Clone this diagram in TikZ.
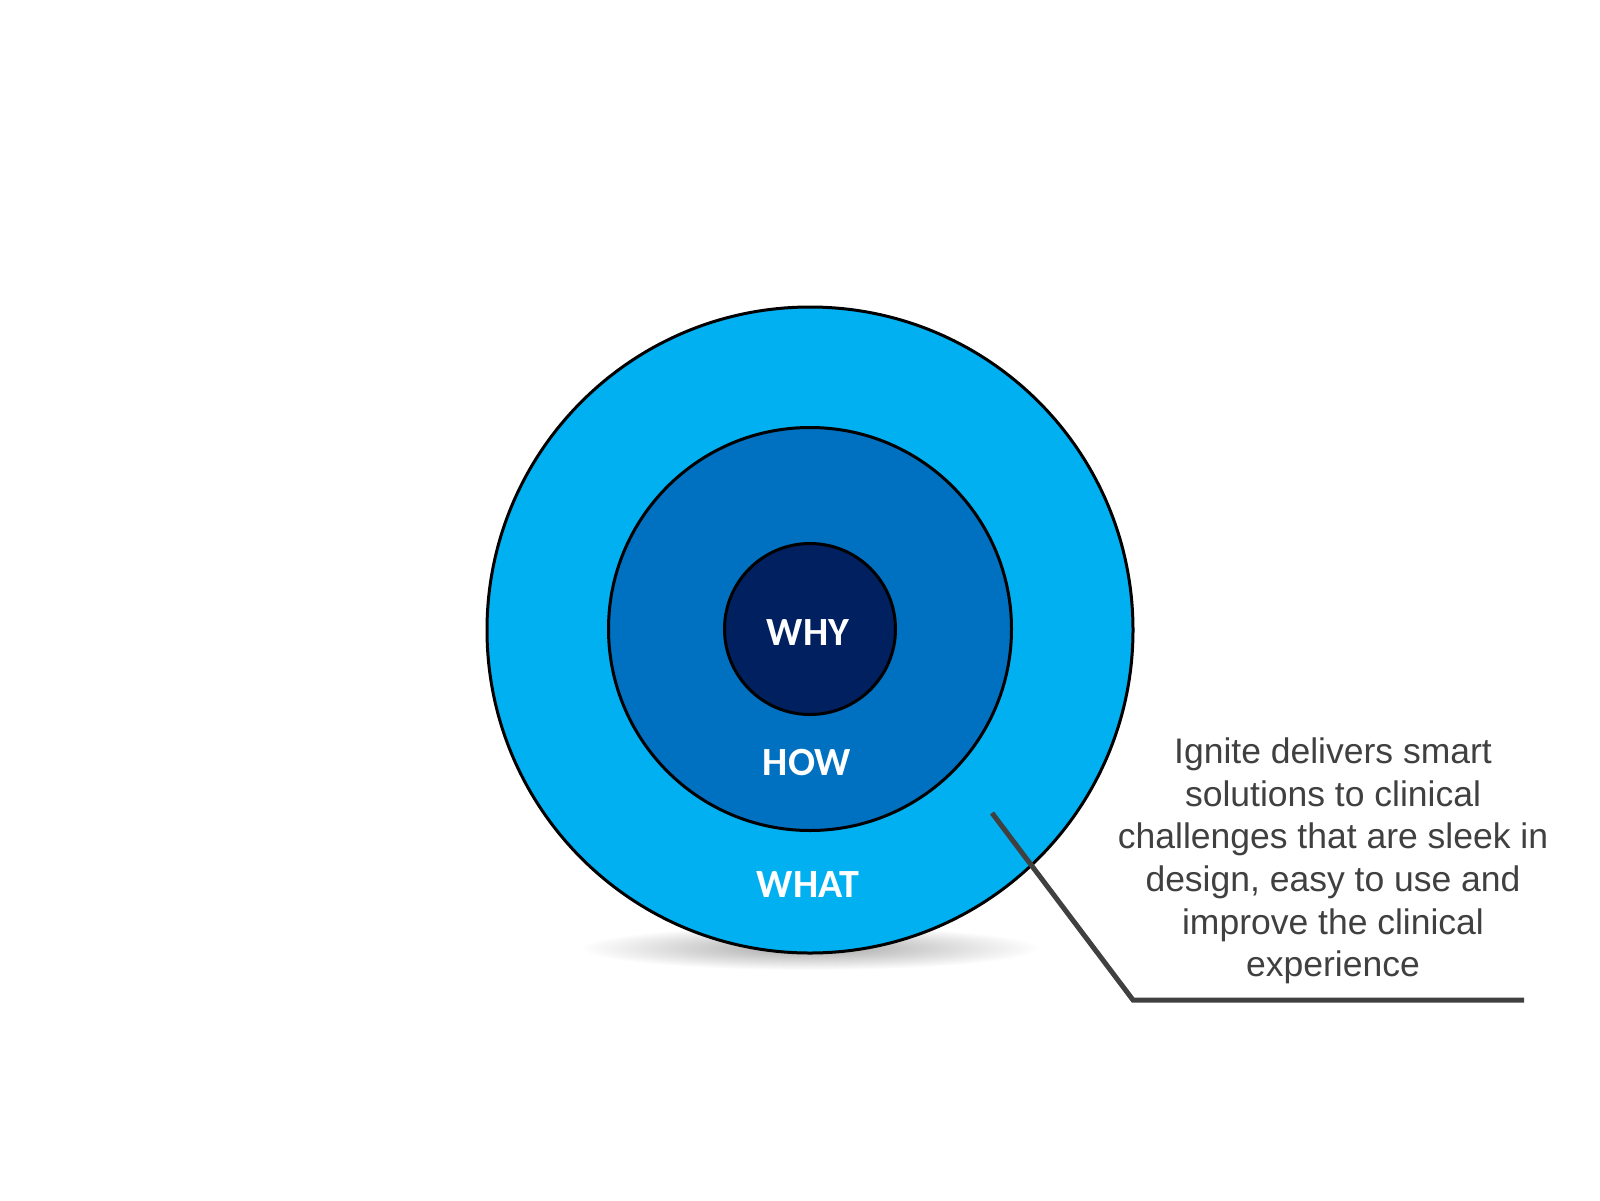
\documentclass[tikz,border=0pt]{standalone}
\usepackage{fontspec}
\setmainfont{Liberation Sans}
\newfontfamily\labelfont{Carlito}
\definecolor{outerblue}{HTML}{00B0F0}
\definecolor{midblue}{HTML}{0070C0}
\definecolor{innerblue}{HTML}{002060}
\definecolor{textgrey}{HTML}{404040}
\begin{document}
\begin{tikzpicture}[x=1pt,y=-1pt,
  ring/.style={circle,draw=black,line width=3pt,inner sep=0pt},
  lbl/.style={text=white,font=\labelfont\bfseries\fontsize{40}{46}\selectfont,inner sep=0pt},
  desc/.style={text=textgrey,align=center,font=\fontsize{35.5}{42.6}\selectfont,inner sep=0pt},
  leader/.style={draw=textgrey,line width=5pt}]
\useasboundingbox (0,0) rectangle (1600,1200);
\shade[inner color=black!35,outer color=white] (810,948) ellipse (230 and 22);
\node[ring,fill=outerblue,minimum size=646pt] (what) at (810,630) {};
\node[ring,fill=midblue,minimum size=403pt] (how) at (810,629) {};
\node[ring,fill=innerblue,minimum size=171pt] (why) at (810,629) {};
\node[lbl] (whyl) at (808,633) {WHY};
\node[lbl] (howl) at (807,763) {HOW};
\node[lbl] (whatl) at (808,885) {WHAT};
\node[desc] (txt) at (1333,861) {Ignite delivers smart\\solutions to clinical\\challenges that are sleek in\\design, easy to use and\\improve the clinical\\experience};
\coordinate (ls) at (992,813);
\coordinate (lb) at (1133,1000);
\coordinate (le) at (1524,1000);
\draw[leader] (ls) -- (lb) -- (le);
\end{tikzpicture}
\end{document}
